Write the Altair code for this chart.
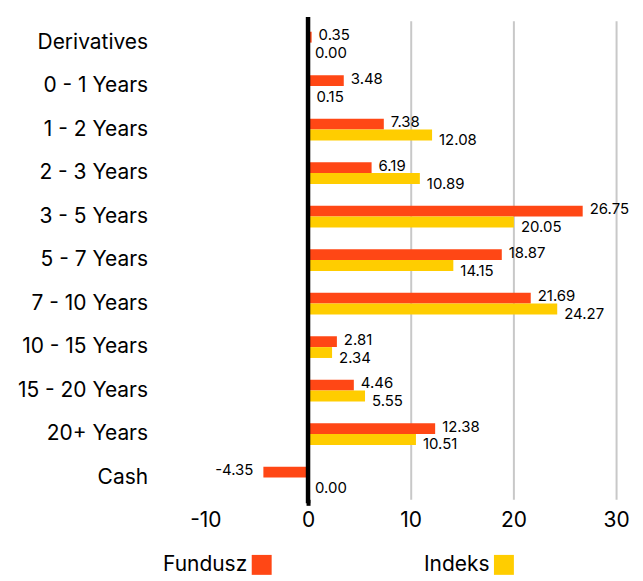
import altair as alt
import pandas as pd

categories = ["Derivatives", "0 - 1 Years", "1 - 2 Years", "2 - 3 Years", "3 - 5 Years",
              "5 - 7 Years", "7 - 10 Years", "10 - 15 Years", "15 - 20 Years",
              "20+ Years", "Cash"]
fundusz = [0.35, 3.48, 7.38, 6.19, 26.75, 18.87, 21.69, 2.81, 4.46, 12.38, -4.35]
indeks = [0.00, 0.15, 12.08, 10.89, 20.05, 14.15, 24.27, 2.34, 5.55, 10.51, 0.00]
series = ["Fundusz", "Indeks"]
colors = ["#FF4715", "#FFCD00"]
x_ticks = [-10, 0, 10, 20, 30]

rows = []
for c, f, i in zip(categories, fundusz, indeks):
    rows.append({"category": c, "series": "Fundusz", "value": f})
    rows.append({"category": c, "series": "Indeks", "value": i})
df = pd.DataFrame(rows)

FONT = "Inter"
W, H = 412, 480

y_enc = alt.Y("category:N", sort=categories,
              scale=alt.Scale(paddingInner=0.5, paddingOuter=0.25),
              axis=alt.Axis(title=None, domain=False, ticks=False, labelFontSize=21,
                            labelPadding=58, minExtent=196, maxExtent=196,
                            labelColor="black", labelFont=FONT))
x_enc = alt.X("value:Q", scale=alt.Scale(domain=[-10, 30], nice=False),
              axis=alt.Axis(title=None, values=x_ticks, domain=False, labelFontSize=21,
                            labelColor="black", labelFont=FONT, labelPadding=4,
                            labelFlush=False, labelExpr="'' + datum.value",
                            tickSize=6, tickWidth=4,
                            tickColor={"expr": "datum.value === 0 ? 'black' : 'transparent'"},
                            gridColor={"expr": "datum.value > 0 ? '#c8c8c8' : 'transparent'"},
                            gridWidth=2))
yoff = alt.YOffset("series:N", sort=series, scale=alt.Scale(paddingInner=0, paddingOuter=0))
color = alt.Color("series:N", sort=series, scale=alt.Scale(domain=series, range=colors),
                  legend=alt.Legend(title=None, orient="none", legendX=46, legendY=535,
                                    direction="horizontal",
                                    symbolType="square", symbolSize=400, symbolStrokeWidth=0,
                                    labelFontSize=21, labelFont=FONT, labelColor="black",
                                    labelAlign="right", labelOffset={"expr": "-25"},
                                    columnPadding=152, symbolOpacity=1))

base = alt.Chart(df).transform_calculate(
    label="replace(format(datum.value, '.2f'), '\u2212', '-')")
bars = base.mark_bar(opacity=1).encode(x=x_enc, y=y_enc, yOffset=yoff, color=color)

txt_style = dict(fontSize=15, font=FONT, color="black")
t_f_pos = base.transform_filter("datum.series == 'Fundusz' && datum.value >= 0").mark_text(
    align="left", dx=7, dy=-2, **txt_style).encode(
    x="value:Q", y=alt.Y("category:N", sort=categories), yOffset=yoff, text="label:N")
t_f_neg = base.transform_filter("datum.series == 'Fundusz' && datum.value < 0").mark_text(
    align="right", dx=-10, dy=-2, **txt_style).encode(
    x="value:Q", y=alt.Y("category:N", sort=categories), yOffset=yoff, text="label:N")
t_i = base.transform_filter("datum.series == 'Indeks'").mark_text(
    align="left", dx=7, dy=5, **txt_style).encode(
    x="value:Q", y=alt.Y("category:N", sort=categories), yOffset=yoff, text="label:N")

zero = alt.Chart(pd.DataFrame({"z": [0]})).mark_rule(color="black", strokeWidth=4.5).encode(
    x="z:Q", y=alt.value(-4), y2=alt.value(H + 4))

chart = alt.layer(bars, t_f_pos, t_f_neg, t_i, zero).properties(
    width=W, height=H, padding={"left": 2, "top": 5, "right": 5, "bottom": 0}
).configure(font=FONT, view=alt.ViewConfig(stroke=None))

chart.save("out.html", embed_options={"renderer": "svg", "actions": False})
